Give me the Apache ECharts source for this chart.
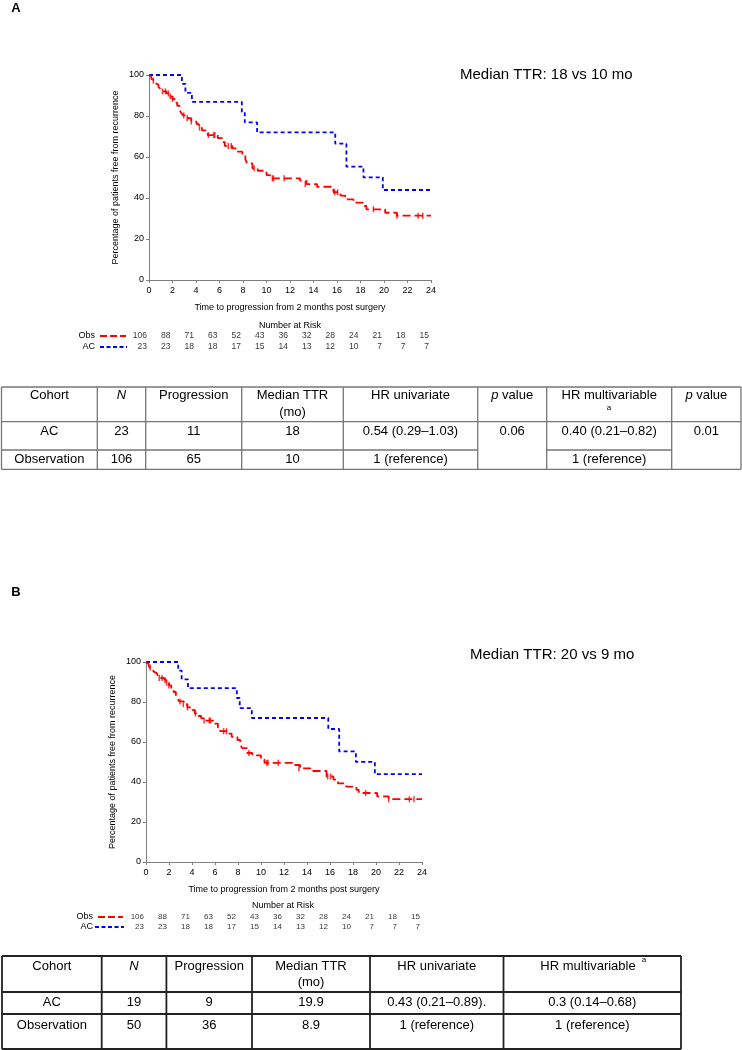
<!DOCTYPE html>
<html>
<head>
<meta charset="utf-8">
<script src="https://cdn.jsdelivr.net/npm/echarts@6/dist/echarts.min.js"></script>
<style>
  html, body { margin: 0; padding: 0; background: #fff; }
  #chart { width: 742px; height: 1050px; }
</style>
</head>
<body>
<div id="chart"></div>
<script>
// Kaplan-Meier steps (same curves in A and B)
const obsTime = [0, 0.1, 0.2, 0.3, 0.5, 0.65, 0.8, 0.95, 1.1, 1.5, 1.75, 2.0, 2.2, 2.4, 2.6, 2.75, 2.9, 3.3, 3.6, 4.05, 4.25, 4.5, 4.8, 5.0, 5.85, 6.25, 6.45, 7.1, 7.45, 7.95, 8.2, 8.35, 8.8, 9.25, 10.0, 10.3, 12.85, 13.4, 14.3, 15.7, 16.3, 16.7, 17.4, 18.3, 18.5, 20.1, 21.1, 24];
const obsSurv = [100, 99.1, 98.1, 97.2, 96.2, 95.3, 94.3, 93.3, 92.0, 91.0, 89.6, 88.3, 86.5, 85.0, 83.0, 81.4, 80.3, 78.9, 77.3, 76.0, 74.3, 73.0, 71.8, 70.7, 69.2, 67.3, 65.4, 64.2, 62.6, 61.0, 58.8, 56.9, 54.5, 53.3, 51.2, 49.6, 48.5, 46.8, 45.5, 42.8, 41.2, 39.3, 37.7, 36.1, 34.5, 32.8, 31.4, 31.4];
const obsCensorTime = [0.37, 1.15, 1.4, 1.65, 1.8, 2.0, 2.95, 3.25, 3.6, 4.3, 5.05, 5.5, 5.6, 6.75, 7.0, 8.95, 10.5, 10.6, 11.5, 13.3, 15.8, 16.05, 19.1, 21.1, 22.9, 23.3];
const obsCensorSurv = [97.2, 92.0, 92.0, 91.0, 89.6, 88.3, 80.3, 78.9, 77.3, 74.3, 70.7, 70.7, 70.7, 65.4, 65.4, 54.5, 49.6, 49.6, 49.6, 46.8, 42.8, 42.8, 34.5, 31.4, 31.4, 31.4];
const acTime = [0, 2.8, 3.1, 3.65, 7.9, 8.15, 9.2, 15.85, 16.8, 18.25, 19.9, 24];
const acSurv = [100, 95.7, 91.3, 86.9, 82.0, 76.9, 72.0, 66.5, 55.3, 50.1, 43.9, 43.9];

// number at risk
const riskTimes = [0, 2, 4, 6, 8, 10, 12, 14, 16, 18, 20, 22, 24];
const obsAtRisk = [106, 88, 71, 63, 52, 43, 36, 32, 28, 24, 21, 18, 15];
const acAtRisk = [23, 23, 18, 18, 17, 15, 14, 13, 12, 10, 7, 7, 7];
const riskRows = ['AC', 'Obs'];

const medianA = 'Median TTR: 18 vs 10 mo';
const medianB = 'Median TTR: 20 vs 9 mo';
const xTitle = 'Time to progression from 2 months post surgery';
const yTitle = 'Percentage of patients free from recurrence';

// tables
const tableAHeader = [['Cohort'], ['{i|N}'], ['Progression'], ['Median TTR', '(mo)'], ['HR univariate'], ['{i|p} value'], ['HR multivariable'], ['{i|p} value']];
const tableARows = [
  ['AC', '23', '11', '18', '0.54 (0.29\u20131.03)', '0.06', '0.40 (0.21\u20130.82)', '0.01'],
  ['Observation', '106', '65', '10', '1 (reference)', '', '1 (reference)', '']
];
const tableBHeader = [['Cohort'], ['{i|N}'], ['Progression'], ['Median TTR', '(mo)'], ['HR univariate'], ['HR multivariable']];
const tableBRows = [
  ['AC', '19', '9', '19.9', '0.43 (0.21\u20130.89).', '0.3 (0.14\u20130.68)'],
  ['Observation', '50', '36', '8.9', '1 (reference)', '1 (reference)']
];

const FONT = '"Liberation Sans", Arial, sans-serif';
const AXIS_GRAY = '#808080';
const RED = '#ff0000';
const BLUE = '#0000ff';

const zip = (a, b) => a.map((v, i) => [v, b[i]]);

function kmAxes(gi) {
  const x = {
    gridIndex: gi, type: 'value', min: 0, max: 24, interval: 2,
    axisLine: { lineStyle: { color: AXIS_GRAY, width: 1 } },
    axisTick: { length: 3, lineStyle: { color: AXIS_GRAY } },
    axisLabel: { fontSize: 9, color: '#000', margin: 6, fontFamily: FONT },
    splitLine: { show: false },
    name: xTitle, nameLocation: 'middle', nameGap: 23,
    nameTextStyle: { fontSize: 9, color: '#000', fontFamily: FONT }
  };
  const y = {
    gridIndex: gi, type: 'value', min: 0, max: 100, interval: 20,
    axisLine: { show: true, lineStyle: { color: AXIS_GRAY, width: 1 } },
    axisTick: { show: true, length: 3, lineStyle: { color: AXIS_GRAY } },
    axisLabel: { fontSize: 9, color: '#000', margin: 5, fontFamily: FONT },
    splitLine: { show: false },
    name: yTitle, nameLocation: 'middle', nameGap: 29, nameRotate: 90,
    nameTextStyle: { fontSize: 9, color: '#000', fontFamily: FONT }
  };
  return [x, y];
}

function riskAxes(gi, labelMargin) {
  const x = { gridIndex: gi, type: 'value', min: 0, max: 24, show: false };
  const y = {
    gridIndex: gi, type: 'category', data: riskRows,
    axisLine: { show: false }, axisTick: { show: false }, splitLine: { show: false },
    axisLabel: { interval: 0, fontSize: 9, color: '#000', margin: labelMargin, fontFamily: FONT }
  };
  return [x, y];
}

function kmSeries(ai) {
  return [
    {
      type: 'line', xAxisIndex: ai, yAxisIndex: ai, step: 'end', symbol: 'none',
      data: zip(acTime, acSurv),
      lineStyle: { color: BLUE, width: 1.8, type: [4, 3] }, z: 3
    },
    {
      type: 'line', xAxisIndex: ai, yAxisIndex: ai, step: 'end', symbol: 'none',
      data: zip(obsTime, obsSurv),
      lineStyle: { color: RED, width: 1.8, type: [8, 4] }, z: 4
    },
    {
      type: 'scatter', xAxisIndex: ai, yAxisIndex: ai, symbol: 'rect', symbolSize: [1.5, 6],
      data: zip(obsCensorTime, obsCensorSurv),
      itemStyle: { color: RED }, z: 5
    }
  ];
}

function riskSeries(ai, fs) {
  const mk = (row, vals) => ({
    type: 'scatter', xAxisIndex: ai, yAxisIndex: ai, symbolSize: 1,
    itemStyle: { color: 'rgba(0,0,0,0)' },
    data: riskTimes.map((t, i) => [t, row, vals[i]]),
    label: {
      show: true, position: 'left', distance: 1.5, fontSize: fs, color: '#000', fontFamily: FONT,
      formatter: p => p.value[2]
    }
  });
  return [mk('Obs', obsAtRisk), mk('AC', acAtRisk)];
}

function txt(x, y, text, o) {
  o = o || {};
  return {
    type: 'text', silent: true,
    style: Object.assign({
      x: x, y: y, text: text, fill: '#000', fontSize: 13, fontFamily: FONT,
      align: 'center', verticalAlign: 'middle',
      rich: { i: { fontStyle: 'italic', fontSize: o.fontSize || 13, fontFamily: FONT } }
    }, o)
  };
}

function seg(x1, y1, x2, y2, color, w) {
  return { type: 'line', silent: true, shape: { x1, y1, x2, y2 }, style: { stroke: color, lineWidth: w } };
}

function drawTable(t) {
  const g = [];
  const c = t.cols, r = t.rows;
  c.forEach(x => g.push(seg(x, r[0], x, r[3], t.color, t.lw)));
  [r[0], r[1], r[3]].forEach(y => g.push(seg(c[0], y, c[c.length - 1], y, t.color, t.lw)));
  // line between the data rows, skipping merged cells
  for (let k = 0; k < c.length - 1; k++) {
    if (t.merged.indexOf(k) < 0) g.push(seg(c[k], r[2], c[k + 1], r[2], t.color, t.lw));
  }
  const mid = k => (c[k] + c[k + 1]) / 2;
  t.header.forEach((lines, k) => {
    lines.forEach((s, j) => g.push(txt(mid(k), t.headY[j], s)));
  });
  t.body.forEach((row, ri) => {
    row.forEach((s, k) => { if (s) g.push(txt(mid(k), t.bodyY[ri], s)); });
  });
  return g;
}

const chart = echarts.init(document.getElementById('chart'), null, { renderer: 'canvas' });

const [xa0, ya0] = kmAxes(0);
const [xa1, ya1] = riskAxes(1, 54);
const [xa2, ya2] = kmAxes(2);
const [xa3, ya3] = riskAxes(3, 53);

let graphic = [];
graphic.push(txt(16, 8, 'A', { fontSize: 13, fontWeight: 'bold' }));
graphic.push(txt(16, 592, 'B', { fontSize: 13, fontWeight: 'bold' }));
graphic.push(txt(460, 75, medianA, { fontSize: 15, align: 'left' }));
graphic.push(txt(470, 655, medianB, { fontSize: 15, align: 'left' }));
graphic.push(txt(290, 326, 'Number at Risk', { fontSize: 9 }));
graphic.push(txt(283, 906, 'Number at Risk', { fontSize: 9 }));

// risk legend dashes
graphic.push({ type: 'line', silent: true, shape: { x1: 100, y1: 336, x2: 126, y2: 336 }, style: { stroke: RED, lineWidth: 1.8, lineDash: [7, 3] } });
graphic.push({ type: 'line', silent: true, shape: { x1: 100, y1: 347, x2: 127, y2: 347 }, style: { stroke: BLUE, lineWidth: 1.8, lineDash: [4, 2.5] } });
graphic.push({ type: 'line', silent: true, shape: { x1: 98, y1: 917, x2: 123, y2: 917 }, style: { stroke: RED, lineWidth: 1.8, lineDash: [7, 3] } });
graphic.push({ type: 'line', silent: true, shape: { x1: 95, y1: 927, x2: 124, y2: 927 }, style: { stroke: BLUE, lineWidth: 1.8, lineDash: [4, 2.5] } });

graphic = graphic.concat(drawTable({
  cols: [1.5, 97.3, 145.7, 241.7, 343.3, 477.7, 546.7, 671.7, 741],
  rows: [387, 421.7, 450, 469.3],
  merged: [5, 7],
  color: '#767676', lw: 1.3,
  header: tableAHeader, headY: [395.7, 412.3],
  body: tableARows, bodyY: [431, 459.3]
}));
graphic.push(txt(609, 408, 'a', { fontSize: 8 }));

graphic = graphic.concat(drawTable({
  cols: [2, 101.7, 166.4, 252, 370, 503.5, 681],
  rows: [956, 992, 1014, 1049],
  merged: [],
  color: '#222', lw: 1.8,
  header: tableBHeader.map((h, k) => k === 5 ? [] : h), headY: [966, 982],
  body: tableBRows, bodyY: [1002, 1025]
}));
graphic.push(txt(588, 966, tableBHeader[5][0]));
graphic.push(txt(644, 960, 'a', { fontSize: 8 }));

chart.setOption({
  animation: false,
  backgroundColor: '#fff',
  textStyle: { fontFamily: FONT },
  grid: [
    { left: 149, top: 75, width: 282, height: 205 },
    { left: 149, top: 330.5, width: 282, height: 22 },
    { left: 146, top: 662, width: 276, height: 200 },
    { left: 146, top: 912, width: 276, height: 20 }
  ],
  xAxis: [xa0, xa1, xa2, xa3],
  yAxis: [ya0, ya1, ya2, ya3],
  series: [].concat(kmSeries(0), riskSeries(1, 8.5), kmSeries(2), riskSeries(3, 8)),
  graphic: graphic
});
</script>
</body>
</html>
